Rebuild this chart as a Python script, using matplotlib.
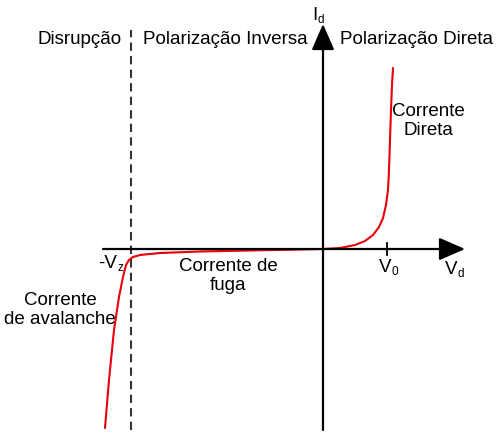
# Diode I-V characteristic sketch (zener breakdown, leakage, forward conduction)
import matplotlib.pyplot as plt
import numpy as np

plt.rcParams['font.family'] = ['Liberation Sans', 'DejaVu Sans']

# curve values (origin at the axes crossing, pixel units)
v_fwd = [0, 17, 32, 42, 50, 56, 60, 63, 65, 66, 67, 68, 69, 70]
i_fwd = [0, 1, 4, 8, 14, 22, 31, 44, 59, 79, 109, 139, 164, 181]

v_rev = [-218, -214, -209, -204, -200, -197, -194, -190, -183, -163, -123, -73, -23, 0]
i_rev = [-179, -131, -81, -48, -28, -16, -11, -8, -6, -4, -2.5, -1.5, -0.5, 0]

v_zener = -192
v_zero = 64

fig = plt.figure(figsize=(5, 4.45), dpi=100)
ax = fig.add_axes([0, 0, 1, 1])
ax.set_xlim(-323, 177)
ax.set_ylim(-196, 249)
ax.axis('off')

# axes with arrows
arrow = dict(arrowstyle='-|>,head_length=1.6,head_width=0.7', lw=1.6, color='black',
             shrinkA=0, shrinkB=0)
ax.annotate('', xy=(142, 0), xytext=(-220, 0), arrowprops=arrow)
ax.annotate('', xy=(0, 225), xytext=(0, -181), arrowprops=arrow)

# breakdown dashed line
ax.plot([v_zener, v_zener], [-181, 219], color='#333333', lw=1.5, ls=(0, (4, 2.5)))

# V0 tick
ax.plot([v_zero, v_zero], [-6, 6], color='black', lw=1.3)

# characteristic curve
ax.plot(v_fwd, i_fwd, color='#e8000b', lw=1.5, solid_capstyle='round')
ax.plot(v_rev, i_rev, color='#e8000b', lw=1.5, solid_capstyle='round')

fs = 13.5
sub = 8.5
ax.text(-243, 210, 'Disrupção', fontsize=fs, ha='center', va='center')
ax.text(-98, 210, 'Polarização Inversa', fontsize=fs, ha='center', va='center')
ax.text(93, 210, 'Polarização Direta', fontsize=fs, ha='center', va='center')

ax.text(105, 128, 'Corrente\nDireta', fontsize=fs, ha='center', va='center', linespacing=1.15)
ax.text(-95, -27, 'Corrente de\nfuga', fontsize=fs, ha='center', va='center', linespacing=1.15)
ax.text(-263, -61, 'Corrente\nde avalanche', fontsize=fs, ha='center', va='center', linespacing=1.15)

# labels with subscripts
ax.text(-8, 234, 'I', fontsize=fs, ha='center', va='center')
ax.text(-5, 229, 'd', fontsize=sub, ha='left', va='center')
ax.text(-215, -14, '-V', fontsize=fs, ha='center', va='center')
ax.text(-206, -19, 'z', fontsize=sub, ha='left', va='center')
ax.text(62, -18, 'V', fontsize=fs, ha='center', va='center')
ax.text(68, -23, '0', fontsize=sub, ha='left', va='center')
ax.text(128, -20, 'V', fontsize=fs, ha='center', va='center')
ax.text(134, -25, 'd', fontsize=sub, ha='left', va='center')

fig.savefig('out.png', dpi=100)
